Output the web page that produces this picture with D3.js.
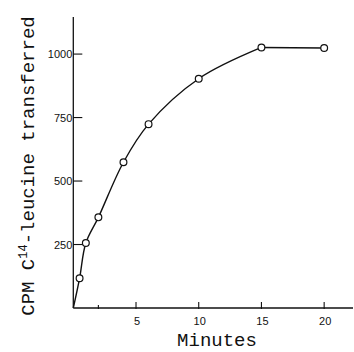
<!DOCTYPE html>
<html>
<head>
<meta charset="utf-8">
<script src="https://cdn.jsdelivr.net/npm/d3@7"></script>
<style>
  body { margin: 0; background: #fff; }
  svg { display: block; }
  .tick-label { font-family: "Liberation Sans", Arial, sans-serif; font-size: 11px; fill: #111; }
  .title { font-family: "Liberation Mono", "DejaVu Sans Mono", monospace; font-size: 19px; fill: #111; }
</style>
</head>
<body>
<svg width="354" height="352"></svg>
<script>

var width = 354, height = 352

// minutes vs counts transferred
var minutes = [0.5, 1, 2, 4, 6, 10, 15, 20]
var cpm = [117, 256, 357, 574, 724, 903, 1026, 1024]

var xTicks = [5, 10, 15, 20]
var xMinorTicks = [2]
var yTicks = [250, 500, 750, 1000]

var svg = d3.select('svg')

var x = d3.scaleLinear().domain([0, 22.3]).range([73.3, 353])
var y = d3.scaleLinear().domain([0, 1146]).range([308, 17])

var points = minutes.map(function(m, i) {
  return { m: m, v: cpm[i] }
})

// axis lines
svg.append('line')
  .attr('x1', x(0)).attr('x2', x(0))
  .attr('y1', y(0)).attr('y2', y(1146))
  .attr('stroke', '#111').attr('stroke-width', 1.3)

svg.append('line')
  .attr('x1', x(0)).attr('x2', x(22.3))
  .attr('y1', y(0)).attr('y2', y(0))
  .attr('stroke', '#111').attr('stroke-width', 1.3)

// y ticks, drawn inward
svg.selectAll('.ytick')
  .data(yTicks)
  .enter()
  .append('line')
  .attr('class', 'ytick')
  .attr('x1', x(0))
  .attr('x2', x(0) + 9)
  .attr('y1', function(d) { return y(d) })
  .attr('y2', function(d) { return y(d) })
  .attr('stroke', '#111')
  .attr('stroke-width', 1.1)

svg.selectAll('.ylab')
  .data(yTicks)
  .enter()
  .append('text')
  .attr('class', 'tick-label')
  .attr('x', x(0) - 1)
  .attr('y', function(d) { return y(d) })
  .attr('dy', 4)
  .attr('text-anchor', 'end')
  .text(function(d) { return d })

// x ticks
svg.selectAll('.xtick')
  .data(xTicks.concat(xMinorTicks))
  .enter()
  .append('line')
  .attr('class', 'xtick')
  .attr('x1', function(d) { return x(d) })
  .attr('x2', function(d) { return x(d) })
  .attr('y1', y(0) + 1)
  .attr('y2', function(d) { return xMinorTicks.indexOf(d) >= 0 ? y(0) - 3 : y(0) - 6 })
  .attr('stroke', '#111')
  .attr('stroke-width', 1.1)

svg.selectAll('.xlab')
  .data(xTicks)
  .enter()
  .append('text')
  .attr('class', 'tick-label')
  .attr('x', function(d) { return x(d) + 1 })
  .attr('y', 325)
  .attr('text-anchor', 'middle')
  .text(function(d) { return d })

// axis titles
svg.append('text')
  .attr('class', 'title')
  .attr('x', 217)
  .attr('y', 346)
  .attr('text-anchor', 'middle')
  .text('Minutes')

var yt = svg.append('text')
  .attr('class', 'title')
  .attr('transform', 'translate(34,166) rotate(-90)')
  .attr('text-anchor', 'middle')

yt.append('tspan').text('CPM C')
yt.append('tspan').attr('dy', -7).attr('font-size', 12).text('14')
yt.append('tspan').attr('dy', 7).text('-leucine transferred')

// fitted curve from the origin up to the plateau, then flat
var line = d3.line()
  .x(function(d) { return x(d.m) })
  .y(function(d) { return y(d.v) })

var rising = [{ m: 0, v: 0 }].concat(points.filter(function(d) { return d.m <= 15 }))
var plateau = points.filter(function(d) { return d.m >= 15 })

svg.append('path')
  .datum(rising)
  .attr('d', line.curve(d3.curveCatmullRom.alpha(0.5)))
  .attr('fill', 'none')
  .attr('stroke', '#111')
  .attr('stroke-width', 1.4)

svg.append('path')
  .datum(plateau)
  .attr('d', line.curve(d3.curveLinear))
  .attr('fill', 'none')
  .attr('stroke', '#111')
  .attr('stroke-width', 1.4)

svg.selectAll('circle')
  .data(points)
  .enter()
  .append('circle')
  .attr('cx', function(d) { return x(d.m) })
  .attr('cy', function(d) { return y(d.v) })
  .attr('r', 3.4)
  .attr('fill', '#fff')
  .attr('stroke', '#111')
  .attr('stroke-width', 1.2)

</script>
</body>
</html>
